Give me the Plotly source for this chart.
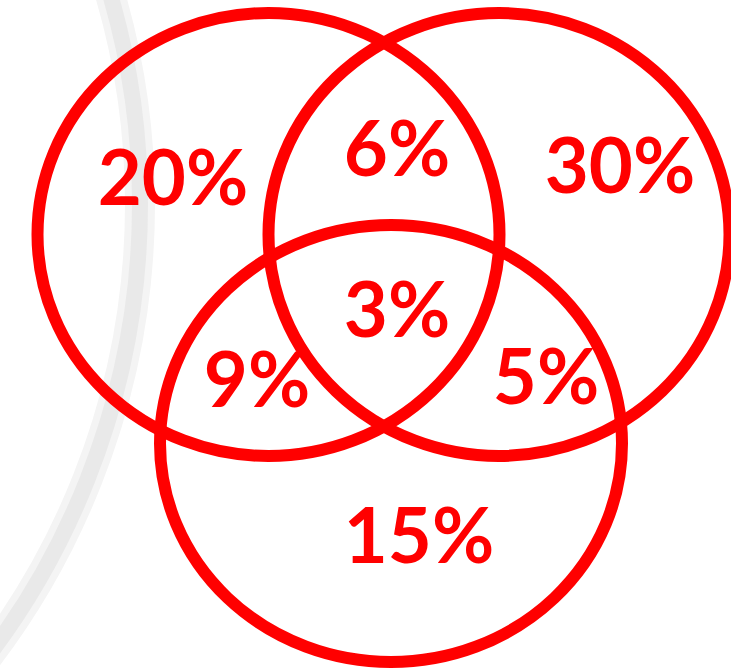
import plotly.graph_objects as go

# ---- Data ----------------------------------------------------------------
regions = ["A only", "B only", "C only", "A∩B", "A∩C", "B∩C", "A∩B∩C"]
shares = [20, 30, 15, 6, 9, 5, 3]
labels = [f"{v}%" for v in shares]

# ---- Layout geometry (canvas pixel space, 731 x 670) -----------------------
circle_names = ["A", "B", "C"]
circle_cx = [268.5, 499.0, 391.0]
circle_cy = [234.5, 234.5, 443.5]
circle_rx = [231.0, 230.5, 231.0]
circle_ry = [221.5, 221.5, 218.5]

label_x = [173, 620, 419, 397, 257, 546, 397]
label_y = [186, 174, 544, 157, 388, 385, 318]

# faint decorative background arc
bg_arc_cx, bg_arc_cy, bg_arc_r = -608, 204, 748

W, H = 731, 670
RED = "#FF0000"

fig = go.Figure()

fig.add_trace(go.Scatter(
    x=label_x, y=label_y, mode="text", text=labels,
    textposition="middle center",
    textfont=dict(family="Lato", size=76, color=RED, weight="bold"),
    hoverinfo="skip", showlegend=False,
))

shapes = []
for col, wid in (("#f4f4f4", 30), ("#e9e9e9", 16)):
    shapes.append(dict(
        type="circle", xref="x", yref="y", layer="below",
        x0=bg_arc_cx - bg_arc_r, x1=bg_arc_cx + bg_arc_r,
        y0=bg_arc_cy - bg_arc_r, y1=bg_arc_cy + bg_arc_r,
        line=dict(color=col, width=wid),
    ))
for cx, cy, rx, ry in zip(circle_cx, circle_cy, circle_rx, circle_ry):
    shapes.append(dict(
        type="circle", xref="x", yref="y", layer="above",
        x0=cx - rx, x1=cx + rx, y0=cy - ry, y1=cy + ry,
        line=dict(color=RED, width=12),
    ))

fig.update_layout(
    width=W, height=H,
    margin=dict(l=0, r=0, t=0, b=0),
    paper_bgcolor="white", plot_bgcolor="white",
    shapes=shapes,
    xaxis=dict(range=[0, W], visible=False, fixedrange=True),
    yaxis=dict(range=[H, 0], visible=False, fixedrange=True),
    showlegend=False,
)

fig.write_html(
    "out.html",
    config={"displayModeBar": False},
    post_script="document.body.style.margin='0';document.body.style.overflow='hidden';",
)
